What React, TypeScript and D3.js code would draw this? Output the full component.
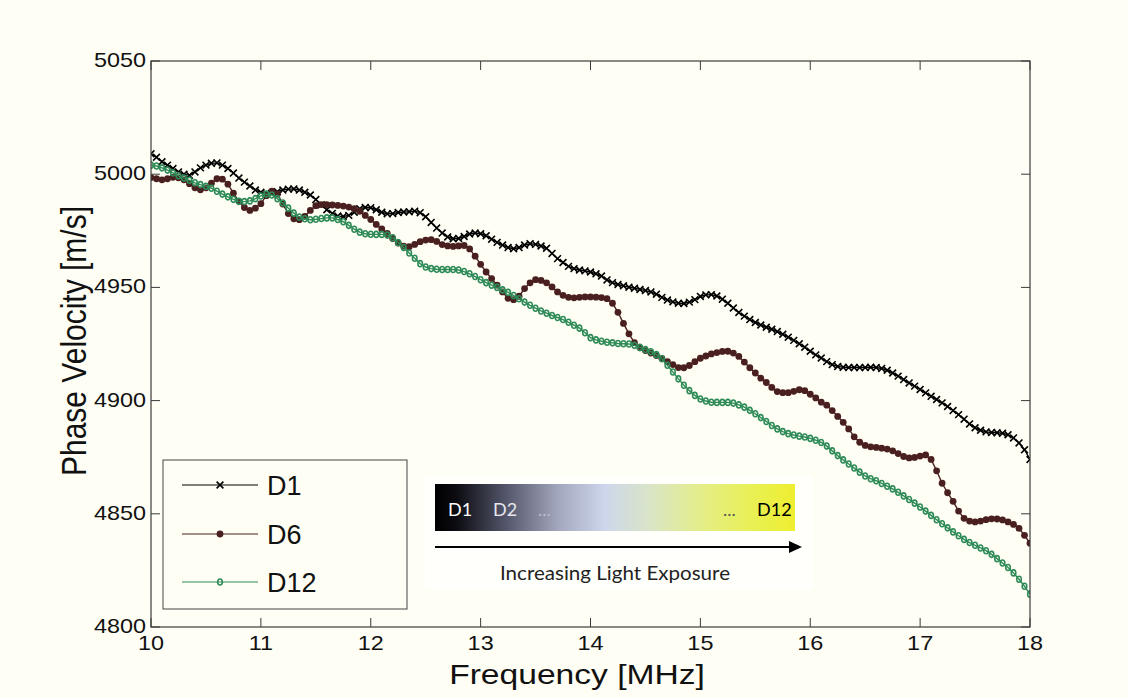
import React from "react";
import * as d3 from "d3";

// ---------- DATA ----------
const FREQ_START = 10;
const FREQ_STEP = 0.05;

const d1Values = [
  5009, 5007.5, 5005.5, 5004, 5002.5, 5001, 5000, 4999.5, 5001, 5002.8,
  5004, 5004.8, 5005, 5004, 5002.5, 5000.5, 4998.3, 4996.5, 4994.8, 4993,
  4992, 4991.5, 4991.6, 4992.3, 4993, 4993.4, 4993.5, 4993, 4992, 4990.8,
  4988.8, 4986.5, 4984.3, 4982.7, 4981.5, 4981.3, 4981.8, 4983.2, 4984.8, 4985.3,
  4985.2, 4984.3, 4983.2, 4982.5, 4982.6, 4983.1, 4983.3, 4983.4, 4983.7, 4983,
  4981.2, 4978.7, 4976.2, 4974, 4972.3, 4971.5, 4971.6, 4972.5, 4973.6, 4974,
  4973.7, 4972.8, 4971.3, 4969.9, 4968.7, 4967.6, 4967.1, 4967.6, 4968.7, 4969.3,
  4969, 4968.3, 4967.3, 4965, 4962.7, 4961, 4959.3, 4958.3, 4957.7, 4957.3,
  4956.8, 4956, 4955, 4953.3, 4952.1, 4951.3, 4950.7, 4950.1, 4949.6, 4949.1,
  4948.6, 4948, 4947, 4945.6, 4944.4, 4943.6, 4943, 4942.9, 4943.5, 4944.6,
  4946, 4946.7, 4946.8, 4946.2, 4944.8, 4943, 4940.9, 4938.9, 4937.3, 4935.8,
  4934.5, 4933.4, 4932.4, 4931.5, 4930.5, 4929.3, 4928, 4926.6, 4925.1, 4923.6,
  4921.8, 4920.2, 4918.8, 4917.2, 4915.9, 4915.1, 4914.7, 4914.6, 4914.6, 4914.6,
  4914.6, 4914.7, 4914.6, 4914.2, 4913.4, 4912.2, 4910.8, 4909.3, 4907.8, 4906.4,
  4904.9, 4903.4, 4901.9, 4900.5, 4899, 4897.4, 4895.6, 4893.8, 4891.8, 4889.7,
  4888, 4886.9, 4886.2, 4885.9, 4885.8, 4885.6, 4884.9, 4883.5, 4881.3, 4878.3,
  4874,
];

const d6Values = [
  4998.5, 4998, 4997.5, 4998, 4998.6, 4998.4, 4997.5, 4995.8, 4994, 4993.1,
  4994, 4996, 4998, 4997.8, 4995.6, 4991.6, 4988, 4985.3, 4984, 4985,
  4987, 4990.5, 4992.5, 4991.2, 4986.8, 4982.6, 4980.3, 4979.9, 4981.4, 4984,
  4986.1, 4986.6, 4986.6, 4986.4, 4986.2, 4985.9, 4985.5, 4984.8, 4983.6, 4981.8,
  4980, 4977.8, 4975.8, 4973.8, 4971.6, 4969.6, 4968.2, 4968, 4969, 4970.2,
  4970.9, 4971.1, 4970.3, 4968.9, 4968.3, 4968.1, 4968.3, 4968.5, 4967, 4963.8,
  4960.2, 4956.8, 4953.9, 4951, 4948, 4945.2, 4944.6, 4946.1, 4949.5, 4952,
  4953.4, 4953.1, 4952, 4950.2, 4948, 4946.5, 4945.6, 4945.4, 4945.6, 4945.8,
  4945.8, 4945.7, 4945.5, 4945, 4943, 4939, 4934.1, 4929.5, 4925.6, 4923.3,
  4922.1, 4921, 4919.9, 4918.6, 4917.2, 4915.9, 4914.6, 4914.5, 4915.5, 4917.2,
  4918.7, 4919.7, 4920.6, 4921.2, 4921.7, 4921.8, 4921, 4919.5, 4917, 4914.5,
  4912.2, 4909.9, 4908, 4905.8, 4904, 4903.5, 4903.5, 4904.1, 4904.8, 4904.4,
  4902.8, 4901.2, 4899.3, 4898, 4895.6, 4893, 4890.4, 4887.5, 4884, 4881.6,
  4880.2, 4879.6, 4879.3, 4879, 4878.6, 4877.8, 4876.6, 4875.3, 4874.7, 4874.9,
  4875.5, 4876, 4874, 4869, 4863.5, 4859.3, 4855.5, 4851.2, 4848, 4846.8,
  4846.4, 4846.8, 4847.4, 4847.8, 4847.7, 4847.3, 4846.4, 4845.3, 4843.6, 4840.5,
  4837,
];

const d12Values = [
  5004, 5003.6, 5002.8, 5001.8, 5000.6, 4999.3, 4998.3, 4997.3, 4996.2, 4995.4,
  4994.7, 4993.8, 4992.5, 4991.2, 4990, 4988.9, 4988, 4987.9, 4988.2, 4989.2,
  4990.4, 4991.2, 4990.8, 4989.2, 4987.3, 4985, 4982.8, 4981.1, 4980.3, 4979.9,
  4980.1, 4980.4, 4980.7, 4980.7, 4980, 4979, 4977.4, 4975.7, 4974.4, 4973.7,
  4973.5, 4973.4, 4973.4, 4973.1, 4971.9, 4969.8, 4967.6, 4965.2, 4962.9, 4960.5,
  4959, 4958.3, 4958, 4957.9, 4957.9, 4957.9, 4957.7, 4957, 4956, 4954.8,
  4953.4, 4952.1, 4951, 4950, 4948.9, 4947.8, 4946.4, 4945, 4943.5, 4942.1,
  4940.8, 4939.6, 4938.6, 4937.6, 4936.7, 4935.8, 4934.6, 4933.3, 4932, 4930,
  4927.8, 4926.8, 4926.2, 4925.8, 4925.5, 4925.2, 4925.1, 4925, 4924.4, 4923.5,
  4922.6, 4921.6, 4920.3, 4918.5, 4915.6, 4912.6, 4909.6, 4906.8, 4904.4, 4902.3,
  4900.7, 4899.8, 4899.3, 4899.2, 4899.2, 4899.2, 4898.9, 4898.1, 4897.1, 4895.7,
  4894.2, 4892.5, 4890.8, 4889, 4887.5, 4886.3, 4885.4, 4884.8, 4884.3, 4883.9,
  4883.3, 4882.5, 4881.5, 4879.9, 4877.8, 4875.7, 4873.8, 4872, 4870.2, 4868.4,
  4866.7, 4865.5, 4864.6, 4863.4, 4862.2, 4861, 4859.5, 4857.9, 4856.3, 4854.7,
  4853, 4851.2, 4849.3, 4847.4, 4845.6, 4843.8, 4842, 4840.3, 4838.7, 4837.3,
  4836.1, 4834.9, 4833.7, 4832.1, 4830.2, 4828.3, 4826.3, 4823.9, 4821.1, 4818,
  4814.5,
];

const xTicks = [10, 11, 12, 13, 14, 15, 16, 17, 18];
const yTicks = [4800, 4850, 4900, 4950, 5000, 5050];
const seriesNames = ["D1", "D6", "D12"];
const seriesColors = ["#000000", "#4a1f1f", "#2e8b57"];
const exposureLabels = ["D1", "D2", "...", "...", "D12"];

// ---------- CHART ----------
const W = 1128;
const H = 698;
const BG = "#fefef4";
const FONT = "'Liberation Sans', Arial, Helvetica, sans-serif";

function Marker({ kind, cx, cy, color }: { kind: number; cx: number; cy: number; color: string }) {
  if (kind === 0) {
    const s = 3.4;
    return (
      <path
        d={`M${cx - s},${cy - s}L${cx + s},${cy + s}M${cx - s},${cy + s}L${cx + s},${cy - s}`}
        stroke={color}
        strokeWidth={1.6}
        fill="none"
      />
    );
  }
  if (kind === 1) {
    return <circle cx={cx} cy={cy} r={3.4} fill={color} />;
  }
  return <ellipse cx={cx} cy={cy} rx={2.3} ry={3} fill="none" stroke={color} strokeWidth={1.6} />;
}

export default function App() {
  const x = d3.scaleLinear().domain([10, 18]).range([151, 1030]);
  const y = d3.scaleLinear().domain([4800, 5050]).range([627, 61]);
  const [x0, x1] = x.range();
  const [y0, y1] = y.range();

  const allSeries = [d1Values, d6Values, d12Values].map((vals) =>
    vals.map((v, i) => ({ f: FREQ_START + i * FREQ_STEP, v }))
  );
  const line = d3
    .line<{ f: number; v: number }>()
    .x((d) => x(d.f))
    .y((d) => y(d.v));

  const tickLen = 9;

  // legend
  const lgX = 163, lgY = 460, lgW = 244, lgH = 149;
  const lgRows = [485, 534, 582];

  // colorbar inset
  const cbX = 435, cbY = 484, cbW = 360, cbH = 47;
  const exposureX = [448, 493, 538, 723, 757];
  const exposureFill = ["#ffffff", "#e6e6ee", "#b8bccc", "#555555", "#000000"];

  return (
    <div style={{ position: "fixed", left: 0, top: 0, width: W, height: H }}>
      <svg width={W} height={H} style={{ display: "block" }} fontFamily={FONT}>
        <defs>
          <linearGradient id="expo" x1="0" x2="1" y1="0" y2="0">
            <stop offset="0" stopColor="#000000" />
            <stop offset="0.06" stopColor="#0c0c12" />
            <stop offset="0.2" stopColor="#55586c" />
            <stop offset="0.34" stopColor="#a2a6bc" />
            <stop offset="0.47" stopColor="#cdd6ec" />
            <stop offset="0.6" stopColor="#d9e5c6" />
            <stop offset="0.75" stopColor="#e5ee84" />
            <stop offset="0.9" stopColor="#e9f04e" />
            <stop offset="1" stopColor="#eeee30" />
          </linearGradient>
          <clipPath id="plotclip">
            <rect x={x0} y={y1} width={x1 - x0} height={y0 - y1} />
          </clipPath>
        </defs>
        <rect x={0} y={0} width={W} height={H} fill={BG} />

        {/* inset background */}
        <rect x={425} y={476} width={388} height={114} fill="#ffffff" opacity={0.7} />

        {/* series */}
        <g clipPath="url(#plotclip)">
          {allSeries.map((pts, si) => (
            <g key={seriesNames[si]}>
              <path d={line(pts) || ""} fill="none" stroke={seriesColors[si]} strokeWidth={1.4} />
              {pts.map((p, i) => (
                <Marker key={i} kind={si} cx={x(p.f)} cy={y(p.v)} color={seriesColors[si]} />
              ))}
            </g>
          ))}
        </g>

        {/* axes box */}
        <rect x={x0} y={y1} width={x1 - x0} height={y0 - y1} fill="none" stroke="#3a3a3a" strokeWidth={1.2} />
        {xTicks.map((t) => (
          <g key={"xt" + t} stroke="#3a3a3a" strokeWidth={1}>
            <line x1={x(t)} x2={x(t)} y1={y0} y2={y0 - tickLen} />
            <line x1={x(t)} x2={x(t)} y1={y1} y2={y1 + tickLen} />
          </g>
        ))}
        {yTicks.map((t) => (
          <g key={"yt" + t} stroke="#3a3a3a" strokeWidth={1}>
            <line x1={x0} x2={x0 + tickLen} y1={y(t)} y2={y(t)} />
            <line x1={x1} x2={x1 - tickLen} y1={y(t)} y2={y(t)} />
          </g>
        ))}

        {/* tick labels */}
        {xTicks.map((t) => (
          <text
            key={"xl" + t}
            transform={`translate(${x(t)},${y0 + 23}) scale(1.17,1)`}
            textAnchor="middle"
            fontSize={20}
            fill="#111"
          >
            {t}
          </text>
        ))}
        {yTicks.map((t) => (
          <text
            key={"yl" + t}
            transform={`translate(${x0 - 5},${y(t) + 6}) scale(1.17,1)`}
            textAnchor="end"
            fontSize={20}
            fill="#111"
          >
            {t}
          </text>
        ))}

        {/* axis titles */}
        <text
          transform={`translate(${577},${684}) scale(1.2,1)`}
          textAnchor="middle"
          fontSize={28}
          fill="#111"
        >
          Frequency [MHz]
        </text>
        <text
          transform={`translate(${86},${341}) scale(1.15,1) rotate(-90)`}
          textAnchor="middle"
          fontSize={30}
          fill="#111"
        >
          Phase Velocity [m/s]
        </text>

        {/* legend */}
        <rect x={lgX} y={lgY} width={lgW} height={lgH} fill={BG} stroke="#444" strokeWidth={1} />
        {seriesNames.map((n, i) => (
          <g key={"lg" + n}>
            <line x1={182} x2={258} y1={lgRows[i]} y2={lgRows[i]} stroke={seriesColors[i]} strokeWidth={1.2} />
            <Marker kind={i} cx={220} cy={lgRows[i]} color={seriesColors[i]} />
            <text x={267} y={lgRows[i] + 10} fontSize={27} fill="#111">
              {n}
            </text>
          </g>
        ))}

        {/* exposure colour bar */}
        <rect x={cbX} y={cbY} width={cbW} height={cbH} fill="url(#expo)" />
        {exposureLabels.map((l, i) => (
          <text
            key={"ex" + i}
            x={exposureX[i]}
            y={516}
            fontSize={18}
            fontFamily="Lato, 'Open Sans', sans-serif"
            fill={exposureFill[i]}
          >
            {l}
          </text>
        ))}
        <line x1={cbX} x2={792} y1={547} y2={547} stroke="#000" strokeWidth={2} />
        <path d="M789,541 L802,547 L789,553 Z" fill="#000" />
        <text
          x={615}
          y={580}
          textAnchor="middle"
          fontSize={19}
          fontFamily="Lato, 'Open Sans', sans-serif"
          fill="#222"
          textLength={230}
          lengthAdjust="spacingAndGlyphs"
        >
          Increasing Light Exposure
        </text>
      </svg>
    </div>
  );
}
